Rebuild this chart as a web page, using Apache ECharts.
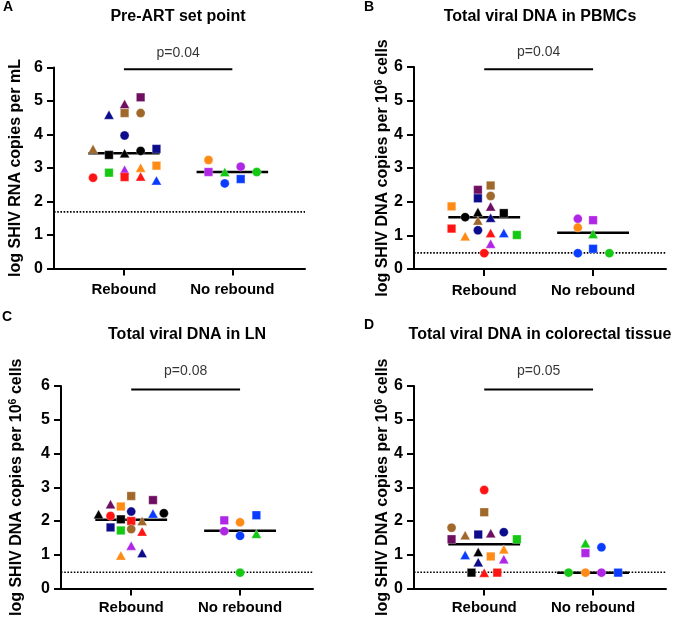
<!DOCTYPE html>
<html><head><meta charset="utf-8">
<script src="https://cdn.jsdelivr.net/npm/echarts@6/dist/echarts.min.js"></script>
<style>html,body{margin:0;padding:0;background:#fff}#c{width:673px;height:618px}</style>
</head><body><div id="c"></div><script>
// ---------- data ----------
const groups = ['Rebound', 'No rebound'];
const yTicks = [0, 1, 2, 3, 4, 5, 6];
const panelTitles = ['Pre-ART set point', 'Total viral DNA in PBMCs', 'Total viral DNA in LN', 'Total viral DNA in colorectal tissue'];
const panelLetters = ['A', 'B', 'C', 'D'];
const pTexts = ['p=0.04', 'p=0.04', 'p=0.08', 'p=0.05'];
const lodValues = [1.69, 0.48, 0.48, 0.48];
const reboundMedians = [3.44, 1.54, 2.04, 1.31];
const noReboundMedians = [2.88, 1.08, 1.71, 0.47];
const pBarValues = [5.95, 5.93, 5.9, 5.9];

// Panel A
const aRebAnimals = ['red-circle','green-square','navy-triangle','black-square','brown-triangle','plum-triangle','brown-square','navy-circle','black-triangle','violet-triangle','red-square','plum-square','brown-circle','black-circle','orange-triangle','red-triangle','navy-square','orange-square','blue-triangle'];
const aRebJitter = [-0.285,-0.138,-0.138,-0.138,-0.285,0.006,0.006,0.006,0.006,0.006,0.006,0.154,0.154,0.154,0.154,0.154,0.30,0.30,0.30];
const aRebValues = [2.71,2.86,4.59,3.39,3.57,4.91,4.64,3.97,3.44,2.95,2.73,5.11,4.64,3.51,3.01,2.75,3.57,3.07,2.63];
const aNoAnimals = ['orange-circle','violet-square','green-triangle','blue-circle','violet-circle','blue-square','green-circle'];
const aNoJitter = [-0.22,-0.22,-0.07,-0.07,0.077,0.077,0.225];
const aNoValues = [3.24,2.88,2.88,2.54,3.04,2.67,2.88];

// Panel B
const bRebAnimals = ['orange-square','red-square','orange-triangle','black-circle','navy-circle','black-triangle','brown-triangle','plum-square','navy-square','red-circle','brown-square','brown-circle','plum-triangle','navy-triangle','red-triangle','violet-triangle','black-square','blue-triangle','green-square'];
const bRebJitter = [-0.30,-0.30,-0.175,-0.175,-0.058,-0.058,-0.058,-0.058,-0.058,0.0,0.059,0.059,0.059,0.059,0.059,0.059,0.18,0.18,0.30];
const bRebValues = [1.86,1.20,0.97,1.54,1.15,1.69,1.44,2.35,2.10,0.47,2.48,2.17,1.86,1.52,1.07,0.75,1.66,1.07,1.01];
const bNoAnimals = ['violet-circle','orange-circle','blue-circle','violet-square','green-triangle','blue-square','green-circle'];
const bNoJitter = [-0.14,-0.14,-0.14,0.0,0.0,0.0,0.15];
const bNoValues = [1.49,1.23,0.47,1.45,1.04,0.60,0.47];

// Panel C
const cRebAnimals = ['black-triangle','plum-triangle','red-circle','navy-square','orange-square','black-square','green-square','orange-triangle','brown-square','navy-circle','red-square','brown-circle','violet-triangle','navy-triangle','brown-triangle','red-triangle','plum-square','blue-triangle','black-circle'];
const cRebJitter = [-0.30,-0.19,-0.19,-0.19,-0.095,-0.095,-0.095,-0.095,0.0,0.0,0.0,0.0,0.0,0.10,0.10,0.10,0.20,0.20,0.30];
const cRebValues = [2.20,2.50,2.15,1.81,2.43,2.05,1.72,0.98,2.74,2.28,2.00,1.76,1.27,1.05,2.00,1.69,2.62,2.22,2.23];
const cNoAnimals = ['violet-square','violet-circle','orange-circle','blue-circle','green-circle','blue-square','green-triangle'];
const cNoJitter = [-0.145,-0.145,0.0,0.0,0.0,0.15,0.15];
const cNoValues = [2.02,1.70,1.96,1.56,0.47,2.17,1.62];

// Panel D
const dRebAnimals = ['brown-circle','plum-square','brown-triangle','blue-triangle','black-square','navy-square','black-triangle','navy-triangle','red-circle','brown-square','red-triangle','orange-square','plum-triangle','red-square','navy-circle','orange-triangle','violet-triangle','green-square'];
const dRebJitter = [-0.30,-0.30,-0.175,-0.175,-0.117,-0.055,-0.055,-0.055,0.0,0.0,0.0,0.06,0.06,0.12,0.18,0.18,0.18,0.30];
const dRebValues = [1.80,1.46,1.58,0.99,0.47,1.60,1.08,0.78,2.92,2.26,0.47,0.95,1.64,0.47,1.67,1.16,0.87,1.46];
const dNoAnimals = ['green-circle','green-triangle','orange-circle','violet-square','violet-circle','blue-circle','blue-square'];
const dNoJitter = [-0.225,-0.07,-0.07,-0.07,0.077,0.077,0.23];
const dNoValues = [0.47,1.34,0.47,1.05,0.47,1.22,0.47];

// ---------- style ----------
const palette = {
  red: '#ff1414', green: '#14c814', navy: '#0c0c8c', black: '#000000', brown: '#a0682a',
  plum: '#6e0f62', violet: '#b026e6', orange: '#ff8a14', blue: '#0a3cff'
};
const shapes = {
  circle: { symbol: 'circle', size: 9 },
  square: { symbol: 'rect', size: 8.5 },
  triangle: { symbol: 'triangle', size: [10, 9] }
};
const FONT = '"Liberation Sans", Arial, Helvetica, sans-serif';

const panels = [
  { reb: [aRebAnimals, aRebJitter, aRebValues], no: [aNoAnimals, aNoJitter, aNoValues],
    grid: { left: 54, top: 67.5, width: 251, height: 201 }, yName: 'log SHIV RNA copies per mL', nameGap: 30,
    xMargin: 14, title: { x: 178, y: 9 }, letter: { x: 3, y: 0 } },
  { reb: [bRebAnimals, bRebJitter, bRebValues], no: [bNoAnimals, bNoJitter, bNoValues],
    grid: { left: 414, top: 67, width: 252, height: 202 }, yName: 'log SHIV DNA copies per 10{s|6} cells', nameGap: 21,
    xMargin: 14, title: { x: 540, y: 9 }, letter: { x: 364, y: 0 } },
  { reb: [cRebAnimals, cRebJitter, cRebValues], no: [cNoAnimals, cNoJitter, cNoValues],
    grid: { left: 61, top: 386, width: 252, height: 203 }, yName: 'log SHIV DNA copies per 10{s|6} cells', nameGap: 35,
    xMargin: 12, title: { x: 187, y: 327 }, letter: { x: 2, y: 310 } },
  { reb: [dRebAnimals, dRebJitter, dRebValues], no: [dNoAnimals, dNoJitter, dNoValues],
    grid: { left: 414, top: 386, width: 252, height: 203 }, yName: 'log SHIV DNA copies per 10{s|6} cells', nameGap: 21,
    xMargin: 12, title: { x: 540, y: 327 }, letter: { x: 364, y: 318 } }
];

function pointItems(arr, base) {
  const [animals, jit, vals] = arr;
  return vals.map((v, i) => {
    const [col, shp] = animals[i].split('-');
    const s = shapes[shp];
    return { value: [base + jit[i], v], symbol: s.symbol, symbolSize: s.size,
      itemStyle: { color: palette[col], opacity: 1, borderColor: 'rgba(255,255,255,0.6)', borderWidth: 0.5 } };
  });
}

const option = { animation: false, backgroundColor: '#fff', grid: [], xAxis: [], yAxis: [], series: [], title: [] };
const XMIN = -0.645, XMAX = 1.67;

panels.forEach((p, k) => {
  option.grid.push(Object.assign({ containLabel: false }, p.grid));
  option.xAxis.push({
    type: 'value', gridIndex: k, min: XMIN, max: XMAX,
    splitLine: { show: false },
    axisLine: { show: true, onZero: false, lineStyle: { color: '#000', width: 2 } },
    axisTick: { show: true, customValues: [0, 1], length: 7, lineStyle: { color: '#000', width: 2 } },
    axisLabel: { show: true, customValues: [0, 1], formatter: v => groups[Math.round(v)], margin: p.xMargin,
      color: '#000', fontWeight: 'bold', fontSize: 15, fontFamily: FONT }
  });
  option.yAxis.push({
    type: 'value', gridIndex: k, min: yTicks[0], max: yTicks[yTicks.length - 1], interval: 1,
    splitLine: { show: false },
    axisLine: { show: true, onZero: false, lineStyle: { color: '#000', width: 2 } },
    axisTick: { show: true, length: 7, lineStyle: { color: '#000', width: 2 } },
    axisLabel: { color: '#000', fontWeight: 'bold', fontSize: 16, fontFamily: FONT, margin: 11 },
    name: p.yName, nameLocation: 'middle', nameRotate: 90, nameGap: p.nameGap,
    nameTextStyle: { color: '#000', fontWeight: 'bold', fontSize: 16, fontFamily: FONT,
      rich: { s: { fontSize: 10.5, fontWeight: 'bold', fontFamily: FONT, color: '#000', verticalAlign: 'top', padding: [0, 0, 7, 0] } } }
  });
  option.title.push({ text: panelTitles[k], left: p.title.x, top: p.title.y, textAlign: 'center', padding: 0,
    textStyle: { fontSize: 16, fontWeight: 'bold', color: '#000', fontFamily: FONT } });
  option.title.push({ text: panelLetters[k], left: p.letter.x, top: p.letter.y, padding: 0,
    textStyle: { fontSize: 14, fontWeight: 'bold', color: '#000', fontFamily: FONT } });

  const ax = { xAxisIndex: k, yAxisIndex: k };
  option.series.push(Object.assign({ type: 'line', symbol: 'none', silent: true, z: 1,
    data: [[XMIN, lodValues[k]], [XMAX, lodValues[k]]],
    lineStyle: { color: '#000', width: 1.6, type: [1.6, 1.6] } }, ax));
  option.series.push(Object.assign({ type: 'line', symbol: 'none', silent: true, z: 2,
    data: [[-0.33, reboundMedians[k]], [0.33, reboundMedians[k]]],
    lineStyle: { color: '#000', width: 2.5 } }, ax));
  option.series.push(Object.assign({ type: 'line', symbol: 'none', silent: true, z: 2,
    data: [[1 - 0.33, noReboundMedians[k]], [1 + 0.33, noReboundMedians[k]]],
    lineStyle: { color: '#000', width: 2.5 } }, ax));
  option.series.push(Object.assign({ type: 'line', symbol: 'none', silent: true, z: 2,
    data: [[0, pBarValues[k]], [1, pBarValues[k]]],
    lineStyle: { color: '#000', width: 2 } }, ax));
  option.series.push(Object.assign({ type: 'scatter', silent: true, clip: false, z: 3,
    symbolSize: 1, itemStyle: { color: 'rgba(0,0,0,0)' },
    data: [[0.5, 6.44]],
    label: { show: true, position: 'inside', formatter: pTexts[k], color: '#000', fontSize: 14, fontFamily: FONT } }, ax));
  option.series.push(Object.assign({ type: 'scatter', z: 5, data: pointItems(p.reb, 0) }, ax));
  option.series.push(Object.assign({ type: 'scatter', z: 5, data: pointItems(p.no, 1) }, ax));
});

const chart = echarts.init(document.getElementById('c'), null, { renderer: 'canvas' });
chart.setOption(option);
</script></body></html>
